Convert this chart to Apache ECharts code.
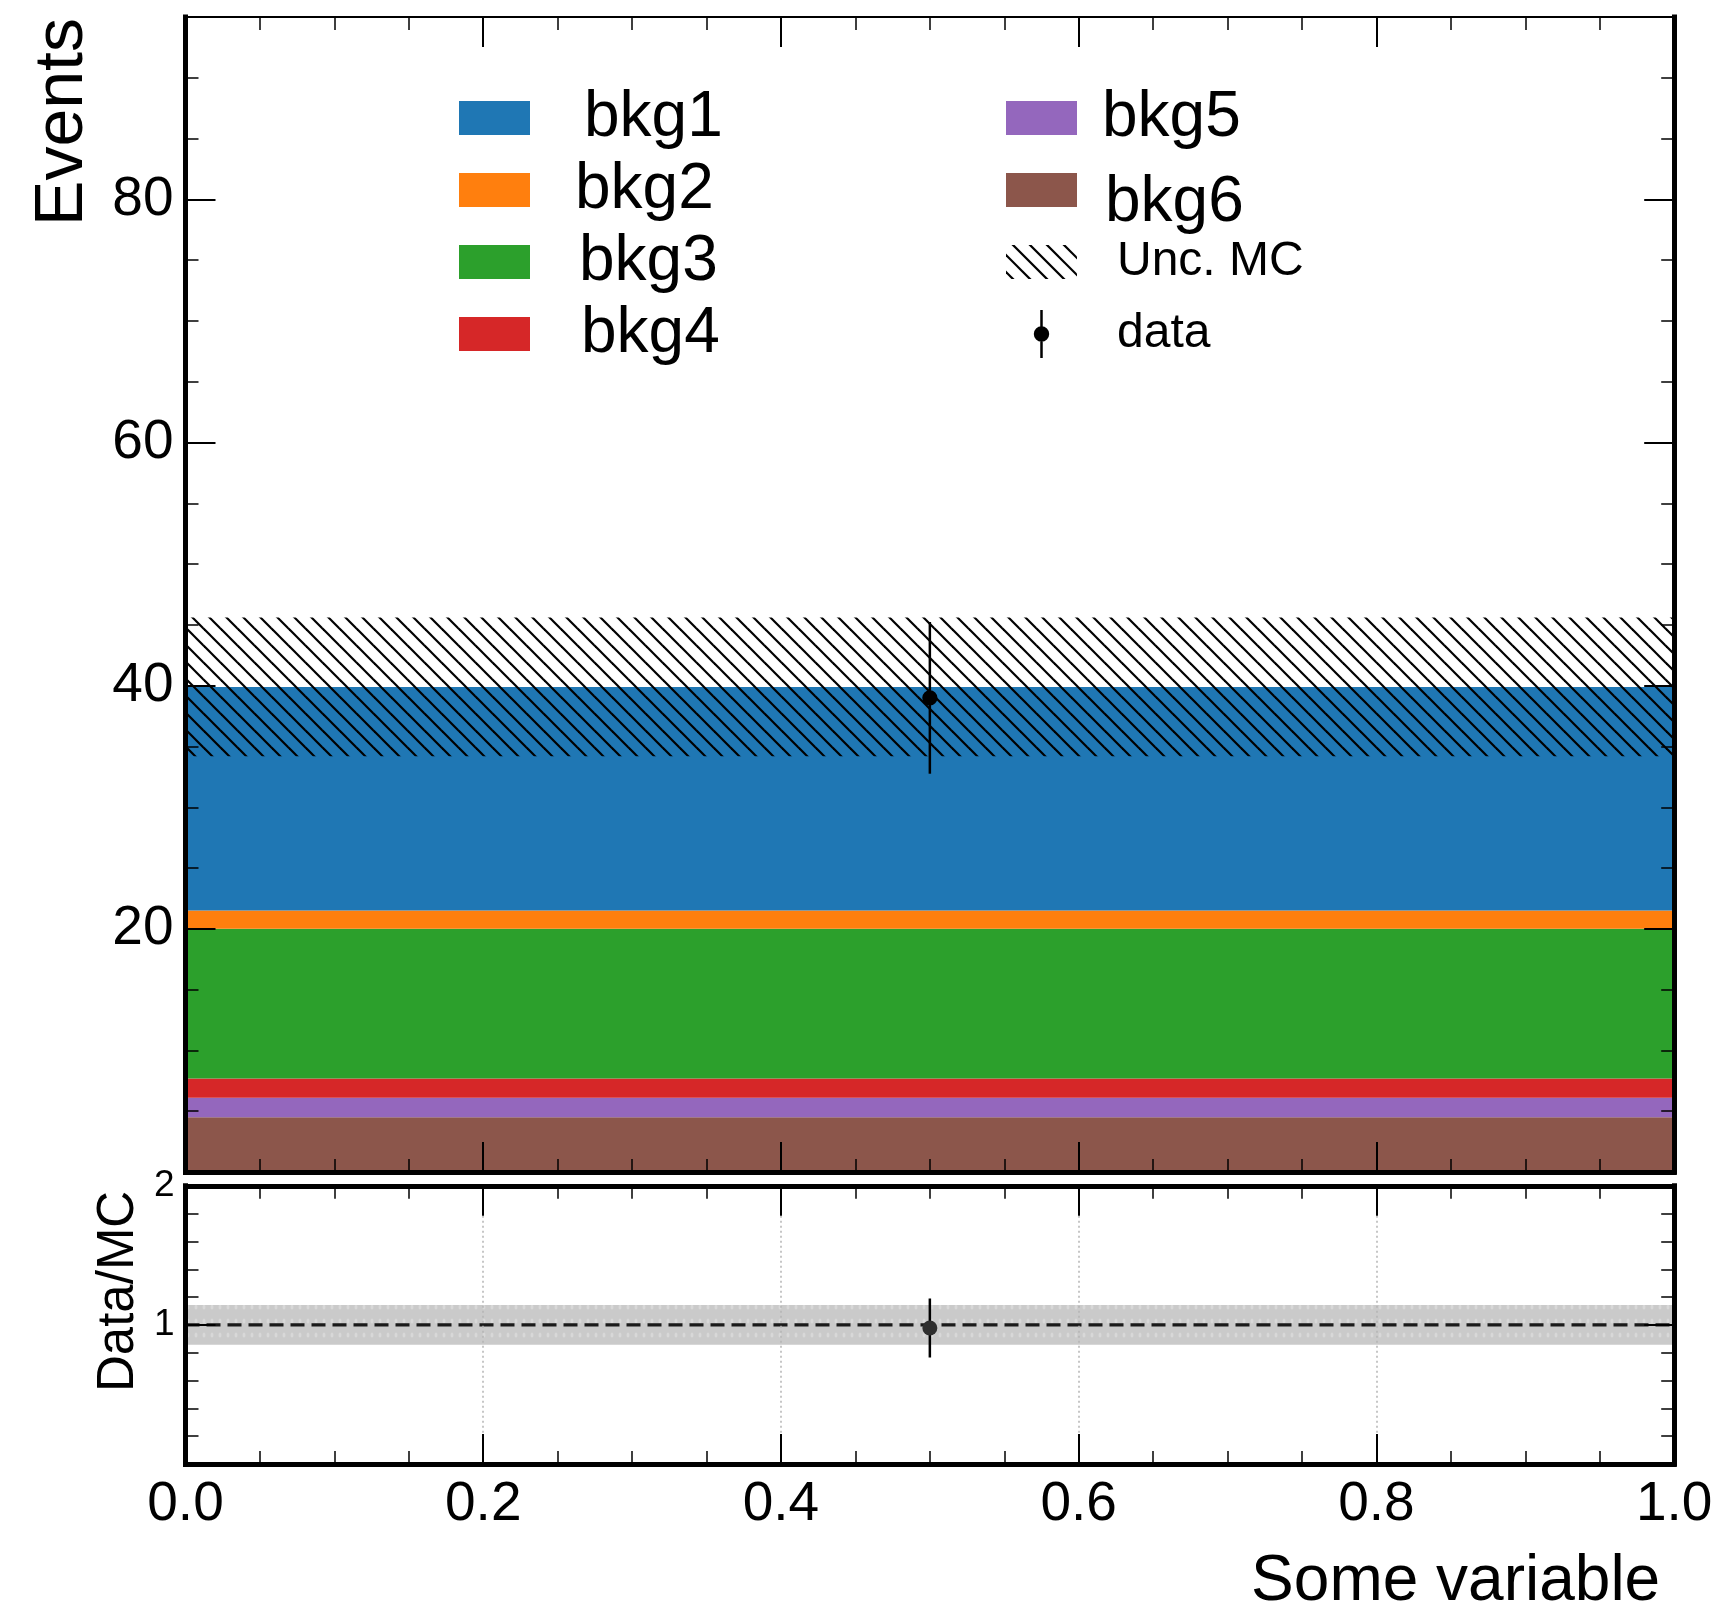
<!DOCTYPE html>
<html>
<head>
<meta charset="utf-8">
<script src="https://cdn.jsdelivr.net/npm/echarts@6/dist/echarts.min.js"></script>
<style>
  html, body { margin: 0; padding: 0; background: #ffffff; }
  #chart { width: 1722px; height: 1612px; }
</style>
</head>
<body>
<div id="chart"></div>
<script>
// Single-bin stacked background histogram with data overlay and a Data/MC ratio panel.

// ---- data ----
const binEdges = [0.0, 1.0];
const bkgNames = ['bkg1', 'bkg2', 'bkg3', 'bkg4', 'bkg5', 'bkg6'];
const bkgColors = ['#1f77b4', '#ff7f0e', '#2ca02c', '#d62728', '#9467bd', '#8c564b'];
const bkg1 = [18.4];
const bkg2 = [1.5];
const bkg3 = [12.3];
const bkg4 = [1.6];
const bkg5 = [1.6];
const bkg6 = [4.5];
const mcUnc = [5.7];        // absolute MC uncertainty per bin
const dataCounts = [39];
const dataErr = [6.24];

// ---- axis ranges ----
const xRange = [0, 1];
const xStep = 0.2;
const yMainRange = [0, 95];
const yMainStep = 20;
const yRatioRange = [0, 2];
const yRatioStep = 1;
const ratioRef = 1;

const FONT = '"Liberation Sans", Arial, Helvetica, sans-serif';

// stacking order, bottom first
const bkgValues = { bkg1, bkg2, bkg3, bkg4, bkg5, bkg6 };
const stackOrder = ['bkg6', 'bkg5', 'bkg4', 'bkg3', 'bkg2', 'bkg1'];
const nBins = binEdges.length - 1;

const cumulative = new Array(nBins).fill(0);
const stackRects = {};
stackOrder.forEach(name => {
  stackRects[name] = [];
  for (let i = 0; i < nBins; i++) {
    const lo = cumulative[i];
    const hi = lo + bkgValues[name][i];
    stackRects[name].push([binEdges[i], binEdges[i + 1], lo, hi]);
    cumulative[i] = hi;
  }
});
const mcTotal = cumulative.slice();

const uncRects = [];
const ratioBand = [];
const dataPoints = [];
const ratioPoints = [];
for (let i = 0; i < nBins; i++) {
  const xc = (binEdges[i] + binEdges[i + 1]) / 2;
  uncRects.push([binEdges[i], binEdges[i + 1], mcTotal[i] - mcUnc[i], mcTotal[i] + mcUnc[i]]);
  ratioBand.push([binEdges[i], binEdges[i + 1], 1 - mcUnc[i] / mcTotal[i], 1 + mcUnc[i] / mcTotal[i]]);
  dataPoints.push([xc, dataCounts[i], dataErr[i]]);
  const r = dataCounts[i] / mcTotal[i];
  const rErr = Math.sqrt(dataErr[i] * dataErr[i] + mcUnc[i] * mcUnc[i]) / mcTotal[i];
  ratioPoints.push([xc, r, rErr]);
}

// ---- fill patterns ----
function hatchCanvas(w, h, step, lw, y0, y1) {
  const c = document.createElement('canvas');
  c.width = w; c.height = h;
  const g = c.getContext('2d');
  g.save();
  g.beginPath(); g.rect(0, y0, w, y1 - y0); g.clip();
  g.strokeStyle = '#000'; g.lineWidth = lw;
  for (let k = -Math.ceil(h / step) - 1; k <= Math.ceil(w / step) + 1; k++) {
    g.beginPath();
    g.moveTo(k * step - 1, -1);
    g.lineTo(k * step + h + 1, h + 1);
    g.stroke();
  }
  g.restore();
  return c;
}
const hatchTile = hatchCanvas(17, 17, 17, 2.2, 0, 17);
const hatchIcon = hatchCanvas(71, 48, 17, 2.2, 7, 41).toDataURL();

function bandTile() {
  const c = document.createElement('canvas');
  c.width = 8; c.height = 14;
  const g = c.getContext('2d');
  g.fillStyle = '#cacaca'; g.fillRect(0, 0, 8, 14);
  g.fillStyle = '#d8d8d8';
  g.beginPath(); g.ellipse(4, 5, 1.5, 2.6, 0, 0, Math.PI * 2); g.fill();
  return c;
}
const bandPattern = { image: bandTile(), repeat: 'repeat' };

// ---- render helpers ----
function rectItem(fillFn) {
  return function (params, api) {
    const pTop = api.coord([api.value(0), api.value(3)]);
    const pBot = api.coord([api.value(1), api.value(2)]);
    return {
      type: 'rect',
      shape: { x: pTop[0], y: pTop[1], width: pBot[0] - pTop[0], height: pBot[1] - pTop[1] },
      style: { fill: fillFn(api), stroke: null, lineWidth: 0 }
    };
  };
}
function pointItem(dotColor, radius) {
  return function (params, api) {
    const x = api.value(0), v = api.value(1), e = api.value(2);
    const c = api.coord([x, v]);
    const top = api.coord([x, v + e]);
    const bot = api.coord([x, v - e]);
    return {
      type: 'group',
      children: [
        { type: 'line', shape: { x1: top[0], y1: top[1], x2: bot[0], y2: bot[1] },
          style: { stroke: '#000', lineWidth: 2.5 } },
        { type: 'circle', shape: { cx: c[0], cy: c[1], r: radius },
          style: { fill: dotColor, stroke: null } }
      ]
    };
  };
}
function refLineItem(params, api) {
  const a = api.coord([api.value(0), api.value(2)]);
  const b = api.coord([api.value(1), api.value(2)]);
  return {
    type: 'line',
    shape: { x1: a[0], y1: a[1], x2: b[0], y2: b[1] },
    style: { stroke: '#1a1a1a', lineWidth: 3.3, lineDash: [14, 7] }
  };
}

// ---- axes ----
const black = '#000000';
function makeAxis(base, opts) {
  return Object.assign({
    type: 'value',
    z: 10,
    nameMoveOverlap: false,
    axisLine: { show: true, onZero: false, lineStyle: { color: black, width: opts.lineWidth, cap: 'square' } },
    axisTick: { show: true, inside: true, length: 30, lineStyle: { color: black, width: 2 } },
    minorTick: { show: true, splitNumber: opts.minorSplit, length: 13, lineStyle: { color: black, width: 1.5 } },
    axisLabel: { show: false },
    splitLine: { show: false }
  }, base);
}

const xAxes = [
  makeAxis({ gridIndex: 0, position: 'bottom', min: xRange[0], max: xRange[1], interval: xStep },
           { lineWidth: 5, minorSplit: 4 }),
  makeAxis({ gridIndex: 0, position: 'top', min: xRange[0], max: xRange[1], interval: xStep },
           { lineWidth: 2, minorSplit: 4 }),
  makeAxis({ gridIndex: 1, position: 'bottom', min: xRange[0], max: xRange[1], interval: xStep,
             axisLabel: { show: true, margin: 13, fontSize: 55, fontFamily: FONT, color: black,
                          formatter: v => v.toFixed(1) },
             splitLine: { show: true, lineStyle: { color: '#b4b4b4', width: 1.5, type: [2, 3] } },
             name: 'Some variable', nameLocation: 'end', nameGap: 0,
             nameTextStyle: { fontSize: 64, fontFamily: FONT, color: black, align: 'right',
                              verticalAlign: 'top', padding: [86, 14, 0, 0] } },
           { lineWidth: 5, minorSplit: 4 }),
  makeAxis({ gridIndex: 1, position: 'top', min: xRange[0], max: xRange[1], interval: xStep },
           { lineWidth: 5, minorSplit: 4 })
];

const yAxes = [
  makeAxis({ gridIndex: 0, position: 'left', min: yMainRange[0], max: yMainRange[1], interval: yMainStep,
             axisLabel: { show: true, margin: 12, fontSize: 55, fontFamily: FONT, color: black,
                          showMinLabel: false, showMaxLabel: false },
             name: 'Events', nameLocation: 'end', nameGap: -1, nameRotate: 90,
             nameTextStyle: { fontSize: 68, fontFamily: FONT, color: black, align: 'right',
                              verticalAlign: 'bottom', padding: [0, 0, 88, 0] } },
           { lineWidth: 5, minorSplit: 4 }),
  makeAxis({ gridIndex: 0, position: 'right', min: yMainRange[0], max: yMainRange[1], interval: yMainStep },
           { lineWidth: 5, minorSplit: 4 }),
  makeAxis({ gridIndex: 1, position: 'left', min: yRatioRange[0], max: yRatioRange[1], interval: yRatioStep,
             axisLabel: { show: true, margin: 11, fontSize: 37, fontFamily: FONT, color: black,
                          showMinLabel: false, showMaxLabel: true },
             name: 'Data/MC', nameLocation: 'end', nameGap: -5, nameRotate: 90,
             nameTextStyle: { fontSize: 51, fontFamily: FONT, color: black, align: 'right',
                              verticalAlign: 'bottom', padding: [0, 0, 41, 0] } },
           { lineWidth: 5, minorSplit: 5 }),
  makeAxis({ gridIndex: 1, position: 'right', min: yRatioRange[0], max: yRatioRange[1], interval: yRatioStep },
           { lineWidth: 5, minorSplit: 5 })
];

// ---- series ----
const series = [];
stackOrder.forEach(name => {
  const color = bkgColors[bkgNames.indexOf(name)];
  series.push({
    name, type: 'custom', xAxisIndex: 0, yAxisIndex: 0, z: 2, clip: true,
    itemStyle: { color },
    encode: { x: [0, 1], y: [2, 3] },
    renderItem: rectItem(api => api.visual('color')),
    data: stackRects[name]
  });
});
series.push({
  name: 'Unc. MC', type: 'custom', xAxisIndex: 0, yAxisIndex: 0, z: 3, clip: true,
  itemStyle: { color: '#000' },
  encode: { x: [0, 1], y: [2, 3] },
  renderItem: rectItem(() => ({ image: hatchTile, repeat: 'repeat' })),
  data: uncRects
});
series.push({
  name: 'data', type: 'custom', xAxisIndex: 0, yAxisIndex: 0, z: 4, clip: true,
  itemStyle: { color: '#000' },
  encode: { x: 0, y: 1 },
  renderItem: pointItem('#000', 7.6),
  data: dataPoints
});
series.push({
  name: 'ratio-band', type: 'custom', xAxisIndex: 2, yAxisIndex: 2, z: 2, clip: true,
  encode: { x: [0, 1], y: [2, 3] },
  renderItem: rectItem(() => bandPattern),
  data: ratioBand
});
series.push({
  name: 'ratio-ref', type: 'custom', xAxisIndex: 2, yAxisIndex: 2, z: 3, clip: true,
  encode: { x: [0, 1], y: 2 },
  renderItem: refLineItem,
  data: [[xRange[0], xRange[1], ratioRef]]
});
series.push({
  name: 'ratio-data', type: 'custom', xAxisIndex: 2, yAxisIndex: 2, z: 4, clip: true,
  encode: { x: 0, y: 1 },
  renderItem: pointItem('#2e2e2e', 7.5),
  data: ratioPoints
});

// ---- legend ----
// legend rows are 72px apart; with 64px text the item height is 64, so gap = 8
const legendCommon = {
  orient: 'vertical', padding: 0, itemWidth: 71, selectedMode: false,
  symbolKeepAspect: true, itemStyle: { borderWidth: 0 }
};
const legends = [
  Object.assign({}, legendCommon, {
    left: 459, top: 86, itemHeight: 34, itemGap: 8, icon: 'rect',
    textStyle: { fontSize: 64, fontFamily: FONT, color: black },
    data: [
      { name: 'bkg1', textStyle: { padding: [0, 0, 0, 49] } },
      { name: 'bkg2', textStyle: { padding: [0, 0, 0, 40] } },
      { name: 'bkg3', textStyle: { padding: [0, 0, 0, 44] } },
      { name: 'bkg4', textStyle: { padding: [0, 0, 0, 46] } }
    ]
  }),
  Object.assign({}, legendCommon, {
    left: 1006, top: 86, itemHeight: 34, itemGap: -5, icon: 'rect',
    textStyle: { fontSize: 64, fontFamily: FONT, color: black,
      rich: {
        gap: { fontSize: 26, lineHeight: 26 },
        low: { fontSize: 64, fontFamily: FONT, color: black, lineHeight: 64 }
      }
    },
    // the bkg6 label sits a little below its swatch
    formatter: name => name === 'bkg6' ? '{gap| }\n{low|' + name + '}' : name,
    data: [
      { name: 'bkg5', textStyle: { padding: [0, 0, 0, 20] } },
      { name: 'bkg6', textStyle: { padding: [0, 0, 0, 23] } }
    ]
  }),
  Object.assign({}, legendCommon, {
    left: 1006, top: 238, itemHeight: 48, itemGap: 24,
    textStyle: { fontSize: 48, fontFamily: FONT, color: black },
    data: [
      { name: 'Unc. MC', icon: 'image://' + hatchIcon, textStyle: { padding: [0, 0, 0, 35] } },
      { name: 'data', icon: 'path://M6.45,0h2.5v48h-2.5z M0,24a7.7,7.7 0 1,1 15.4,0a7.7,7.7 0 1,1 -15.4,0z',
        itemStyle: { color: '#000' }, textStyle: { padding: [0, 0, 0, 35] } }
    ]
  })
];

const chart = echarts.init(document.getElementById('chart'), null, { renderer: 'canvas' });
chart.setOption({
  animation: false,
  backgroundColor: '#ffffff',
  textStyle: { fontFamily: FONT },
  grid: [
    { left: 185.5, right: 47.8, top: 17, height: 1155, outerBoundsMode: 'none', containLabel: false },
    { left: 185.5, right: 47.8, top: 1185.8, height: 278.2, outerBoundsMode: 'none', containLabel: false }
  ],
  xAxis: xAxes,
  yAxis: yAxes,
  legend: legends,
  series
});
</script>
</body>
</html>
